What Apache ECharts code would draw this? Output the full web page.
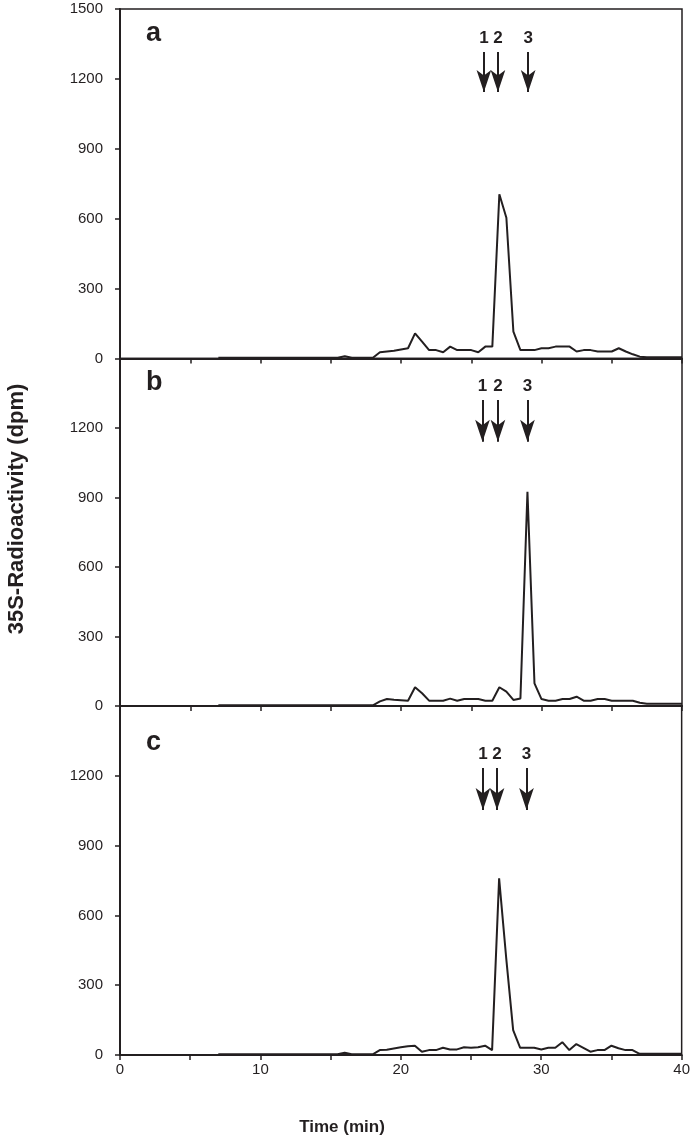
<!DOCTYPE html>
<html>
<head>
<meta charset="utf-8">
<script src="https://cdn.jsdelivr.net/npm/echarts@6/dist/echarts.min.js"></script>
<style>
html,body{margin:0;padding:0;background:#fff;}
#chart{width:693px;height:1145px;}
</style>
</head>
<body>
<div id="chart"></div>
<script>
// Time points (min)
var times = [7,7.5,8,8.5,9,9.5,10,10.5,11,11.5,12,12.5,13,13.5,14,14.5,15,15.5,
  16,16.5,17,17.5,18,18.5,19,19.5,20,20.5,21,21.5,22,22.5,23,23.5,24,24.5,25,25.5,
  26,26.5,27,27.5,28,28.5,29,29.5,30,30.5,31,31.5,32,32.5,33,33.5,34,34.5,35,35.5,
  36,36.5,37,37.5,38,38.5,39,39.5,40];

// 35S-Radioactivity (dpm), panels a, b, c
var panelA = [3,3,3,3,3,3,3,3,3,3,3,3,3,3,3,3,3,3,
  10,3,3,3,3,27,30,33,39,44,108,72,36,36,27,51,36,36,36,27,
  51,51,705,604,115,36,36,36,44,44,51,51,51,30,36,36,30,30,30,44,
  30,18,8,5,5,5,5,5,5];
var panelB = [3,3,3,3,3,3,3,3,3,3,3,3,3,3,3,3,3,3,
  3,3,3,3,3,20,30,27,25,23,81,55,23,23,23,32,23,30,30,30,
  23,23,81,62,26,32,925,98,30,23,23,30,30,40,23,23,30,30,23,23,
  23,23,14,10,10,10,10,10,10];
var panelC = [3,3,3,3,3,3,3,3,3,3,3,3,3,3,3,3,3,3,
  10,3,3,3,3,21,23,28,33,38,40,14,21,21,31,24,24,33,31,33,
  40,21,759,420,107,31,31,31,24,31,31,55,21,47,31,14,21,21,40,29,
  21,21,5,5,5,5,5,5,5];

var panelNames = ['a','b','c'];
var yTicks = [0,300,600,900,1200,1500];
var xTicks = [0,10,20,30,40];

// Standard markers (arrows) 1, 2, 3
var markerLabels = ['1','2','3'];
var markerTimesA = [25.9,26.9,29.05];
var markerTimesB = [25.8,26.9,29.0];
var markerTimesC = [25.85,26.85,28.95];
// arrow start / tip values (dpm) per panel
var arrowTopA = 1315, arrowEndA = 1144;
var arrowTopB = 1321, arrowEndB = 1141;
var arrowTopC = 1234, arrowEndC = 1053;

var INK = '#231f20';
var FONT = '"Liberation Sans", Arial, Helvetica, sans-serif';

var grids = [
  {left:120, width:562, top:9, height:349.5},
  {left:120, width:562, top:358.5, height:347.5},
  {left:120, width:562, top:706, height:349}
];

function makeMarks(ts, top, end){
  return ts.map(function(t,i){
    return [
      {coord:[t, top], symbol:'none', name: markerLabels[i]},
      {coord:[t, end], symbol:'arrow', symbolSize:[11,22]}
    ];
  });
}

var xAxes = [], yAxes = [], series = [];
var datasets = [panelA, panelB, panelC];
var marks = [
  makeMarks(markerTimesA, arrowTopA, arrowEndA),
  makeMarks(markerTimesB, arrowTopB, arrowEndB),
  makeMarks(markerTimesC, arrowTopC, arrowEndC)
];

for (var i=0;i<3;i++){
  xAxes.push({
    type:'value', gridIndex:i, min:0, max:40, interval:5,
    axisLine:{show:true, onZero:false, lineStyle:{color:INK, width:2}},
    axisTick:{show:true, length:5, inside:false, lineStyle:{color:INK, width:1.5}},
    splitLine:{show:false},
    axisLabel:{
      show: i===2, color:INK, fontSize:15, fontFamily:FONT, margin:7,
      formatter:function(v){ return xTicks.indexOf(v) >= 0 ? String(v) : ''; }
    }
  });
  yAxes.push({
    type:'value', gridIndex:i, min:0, max:1500, interval:300,
    axisLine:{show:true, lineStyle:{color:INK, width:2}},
    axisTick:{show:true, length:5, inside:false, lineStyle:{color:INK, width:1.5}},
    splitLine:{show:false},
    axisLabel:{
      color:INK, fontSize:15, fontFamily:FONT, margin:17,
      showMaxLabel: i===0,
      formatter:function(v){ return yTicks.indexOf(v) >= 0 ? String(v) : ''; }
    }
  });
  var d = datasets[i];
  series.push({
    type:'line', xAxisIndex:i, yAxisIndex:i,
    data: times.map(function(t,k){ return [t, d[k]]; }),
    symbol:'none', showSymbol:false,
    lineStyle:{color:INK, width:2},
    animation:false,
    markLine:{
      silent:true, animation:false,
      symbol:['none','arrow'],
      lineStyle:{color:INK, width:2, type:'solid'},
      label:{show:true, position:'start', distance:5, color:INK,
        fontSize:17, fontWeight:'bold', fontFamily:FONT,
        formatter:function(p){ return p.name; }},
      data: marks[i]
    }
  });
}

var chart = echarts.init(document.getElementById('chart'), null, {renderer:'canvas'});
chart.setOption({
  backgroundColor:'#fff',
  animation:false,
  grid: grids.map(function(g){ return Object.assign({show:true, borderColor:INK, borderWidth:1.5, backgroundColor:'transparent'}, g); }),
  xAxis: xAxes,
  yAxis: yAxes,
  series: series,
  graphic: [
    {type:'text', left:146, top:20, style:{text:panelNames[0], font:'bold 27px '+FONT, fill:INK}},
    {type:'text', left:146, top:369, style:{text:panelNames[1], font:'bold 27px '+FONT, fill:INK}},
    {type:'text', left:146, top:729, style:{text:panelNames[2], font:'bold 27px '+FONT, fill:INK}},
    {type:'text', x:17, y:509, rotation:Math.PI/2,
      style:{text:'35S-Radioactivity (dpm)', font:'bold 22px '+FONT, fill:INK, align:'center', verticalAlign:'middle'}},
    {type:'text', x:342, y:1127,
      style:{text:'Time (min)', font:'bold 17px '+FONT, fill:INK, align:'center', verticalAlign:'middle'}}
  ]
});
</script>
</body>
</html>
